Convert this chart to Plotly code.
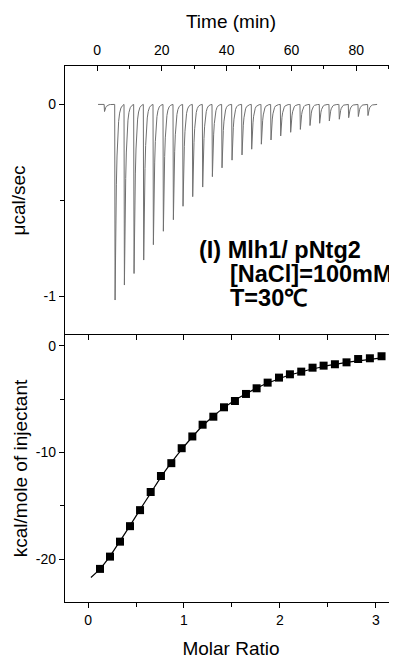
import numpy as np
import plotly.graph_objects as go

# ---------------- data ----------------
# raw thermogram: injection times (min) and peak depths (ucal/sec)
inj_time = [2.3, 5.56, 8.44, 11.42, 14.40, 17.39, 20.47, 23.56, 26.54, 29.53, 32.61,
            35.60, 38.58, 41.67, 44.75, 47.74, 50.72, 53.70, 56.69, 59.77, 62.76,
            65.74, 68.72, 71.71, 74.79, 77.68, 80.66, 83.64]
inj_depth = [0.037, 1.018, 0.94, 0.88, 0.81, 0.73, 0.66, 0.60, 0.53, 0.48, 0.43,
             0.376, 0.33, 0.29, 0.263, 0.233, 0.207, 0.185, 0.164, 0.145, 0.13,
             0.11, 0.098, 0.086, 0.077, 0.069, 0.063, 0.058]
run_start = 0.3
run_end = 86.3

# integrated heats
molar_ratio = [0.125, 0.229, 0.333, 0.4375, 0.542, 0.653, 0.760, 0.868, 0.976, 1.087,
               1.194, 1.306, 1.417, 1.531, 1.646, 1.757, 1.872, 1.99, 2.104, 2.222,
               2.34, 2.455, 2.573, 2.694, 2.815, 2.9375, 3.059]
heat = [-20.9, -19.75, -18.35, -16.9, -15.4, -13.7, -12.2, -11.0, -9.6, -8.5,
        -7.4, -6.65, -5.77, -5.18, -4.52, -3.99, -3.46, -2.99, -2.68, -2.43,
        -2.06, -1.87, -1.74, -1.56, -1.25, -1.18, -0.99]

# fitted curve
fit_x = [0.03, 0.125, 0.229, 0.333, 0.4375, 0.542, 0.653, 0.760, 0.868, 0.976, 1.087,
         1.194, 1.306, 1.417, 1.531, 1.646, 1.757, 1.872, 1.99, 2.104, 2.222,
         2.34, 2.455, 2.573, 2.694, 2.815, 2.9375, 3.059, 3.09]
fit_y = [-21.7, -20.9, -19.7, -18.3, -16.85, -15.35, -13.8, -12.3, -10.95, -9.7, -8.55,
         -7.5, -6.6, -5.8, -5.1, -4.5, -3.98, -3.5, -3.1, -2.75, -2.45,
         -2.18, -1.95, -1.75, -1.57, -1.42, -1.28, -1.15, -1.12]

# tick labels
time_ticks = [0, 20, 40, 60, 80]
power_tickvals = [-1, 0]
power_ticktext = ["-1", "0"]
ratio_ticks = [0, 1, 2, 3]
heat_tickvals = [-20, -10, 0]
heat_ticktext = ["-20", "-10", "0"]

# ---------------- thermogram line from the read peaks ----------------
tau = 0.45
recovery = np.array([0.03, 0.08, 0.15, 0.25, 0.4, 0.6, 0.85, 1.1, 1.4, 1.8, 2.3, 2.8])
tt = [run_start]
yy = [0.0]
for t0, d in zip(inj_time, inj_depth):
    tt += [t0 - 0.12, t0]
    yy += [0.0, -d]
    tt += list(t0 + recovery)
    yy += list(-d * np.exp(-recovery / tau))
tt.append(run_end)
yy.append(0.0)

FONT = "Arial, Liberation Sans, sans-serif"
fig = go.Figure()

fig.add_trace(go.Scatter(x=tt, y=yy, mode="lines", xaxis="x2", yaxis="y2",
                         line=dict(color="#707070", width=1), hoverinfo="skip",
                         showlegend=False))
fig.add_trace(go.Scatter(x=fit_x, y=fit_y, mode="lines", xaxis="x", yaxis="y",
                         line=dict(color="black", width=1.2, shape="spline"),
                         showlegend=False))
fig.add_trace(go.Scatter(x=molar_ratio, y=heat, mode="markers", xaxis="x", yaxis="y",
                         marker=dict(symbol="square", size=8, color="black"),
                         showlegend=False))
# invisible trace for the tick axis on top of the lower panel
fig.add_trace(go.Scatter(x=[None], y=[None], xaxis="x3", yaxis="y", showlegend=False,
                         hoverinfo="skip"))

split = 267 / 536
axis_common = dict(showgrid=False, zeroline=False, showline=True, linecolor="black",
                   linewidth=1.3, tickcolor="black", tickwidth=1.2, automargin=False,
                   tickfont=dict(family=FONT, size=14, color="black"))

# the page body adds an 8px offset, so the figure is 8px smaller than the window
W, H = 389, 651
ML, MT, MB = 57, 58, 57

fig.update_layout(
    width=W, height=H,
    margin=dict(l=ML, r=0, t=MT, b=MB),
    paper_bgcolor="white", plot_bgcolor="white",
    font=dict(family=FONT, color="black"),
    xaxis=dict(**axis_common, domain=[0, 1], anchor="y", range=[-0.24, 3.22],
               tickmode="array", tickvals=ratio_ticks, ticks="outside", ticklen=5,
               minor=dict(tickmode="array", tickvals=[0.5, 1.5, 2.5], ticks="outside",
                          ticklen=4, tickcolor="black"),
               title=dict(text="Molar Ratio", font=dict(family=FONT, size=19), standoff=17)),
    xaxis3=dict(**axis_common, overlaying="x", anchor="y", side="top", matches="x",
                tickmode="array", tickvals=[0, 0.5, 1, 1.5, 2, 2.5, 3], ticks="inside",
                ticklen=5, showticklabels=False),
    yaxis=dict(**axis_common, domain=[0, split], anchor="x", range=[-24, 1],
               tickmode="array", tickvals=heat_tickvals, ticktext=heat_ticktext,
               ticks="outside", ticklen=5,
               minor=dict(tickmode="array", tickvals=[-15, -5], ticks="outside",
                          ticklen=4, tickcolor="black"),
               title=dict(text="kcal/mole of injectant", font=dict(family=FONT, size=19),
                          standoff=3)),
    xaxis2=dict(**axis_common, domain=[0, 1], anchor="y2", side="top", range=[-9.9, 92.6],
                tickmode="array", tickvals=time_ticks, ticks="inside", ticklen=5,
                ticklabelstandoff=4,
                minor=dict(tickmode="array", tickvals=[10, 30, 50, 70, 90], ticks="inside",
                           ticklen=3, tickcolor="black"),
                title=dict(text="Time (min)", font=dict(family=FONT, size=19), standoff=8)),
    yaxis2=dict(**axis_common, domain=[split, 1], anchor="x2", range=[-1.2, 0.2],
                tickmode="array", tickvals=power_tickvals, ticktext=power_ticktext,
                ticks="outside", ticklen=5,
                minor=dict(tickmode="array", tickvals=[-0.5], ticks="outside",
                           ticklen=4, tickcolor="black"),
                title=dict(text="μcal/sec", font=dict(family=FONT, size=19), standoff=15)),
)

PW, PH = W - ML, H - MT - MB
ann_font = dict(family=FONT, size=23.5, color="black")
def px(xp):
    return (xp - 8 - ML) / PW
def py(yp):
    return (H - MB - (yp - 8)) / PH
fig.add_annotation(text="<b>(I) Mlh1/ pNtg2</b>", xref="paper", yref="paper",
                   x=px(197), y=py(250), xanchor="left",
                   yanchor="middle", showarrow=False, font=ann_font)
fig.add_annotation(text="<b>[NaCl]=100mM</b>", xref="paper", yref="paper",
                   x=px(228), y=py(274), xanchor="left",
                   yanchor="middle", showarrow=False, font=ann_font)
fig.add_annotation(text="<b>T=30℃</b>", xref="paper", yref="paper",
                   x=px(228), y=py(298), xanchor="left",
                   yanchor="middle", showarrow=False, font=ann_font)

fig.write_html("out.html")
